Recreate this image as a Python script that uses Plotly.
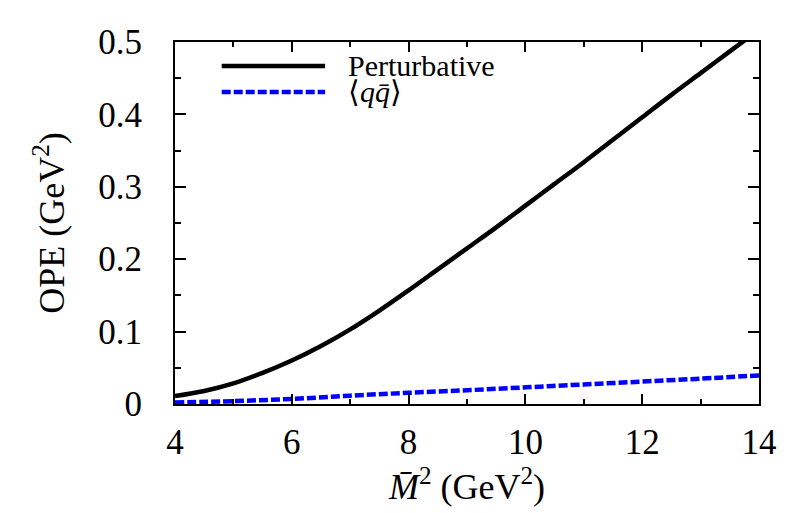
import plotly.graph_objects as go

# Data
m2_pert = [4, 4.5, 5, 5.5, 6, 6.5, 7, 7.5, 8, 8.5, 9, 9.5, 10, 10.5, 11, 11.5, 12, 12.5, 13, 13.5, 14]
perturbative = [0.011, 0.018, 0.0285, 0.043, 0.060, 0.080, 0.103, 0.129, 0.157, 0.186, 0.215,
                0.244, 0.274, 0.304, 0.334, 0.365, 0.396, 0.427, 0.457, 0.487, 0.517]
m2_qq = [4, 5, 6, 7, 8, 9, 10, 11, 12, 13, 14]
qqbar = [0.002, 0.004, 0.007, 0.0115, 0.0155, 0.019, 0.023, 0.027, 0.031, 0.035, 0.0395]

x_ticks = [4, 6, 8, 10, 12, 14]
y_ticks = [0, 0.1, 0.2, 0.3, 0.4, 0.5]
y_ticklabels = ["0", "0.1", "0.2", "0.3", "0.4", "0.5"]

series_names = ["Perturbative", "⟨<i>qq̄</i>⟩"]
series_colors = ["black", "#0000ff"]
series_dash = ["solid", "9px,3px"]

FONT = "Liberation Serif"

fig = go.Figure()
fig.add_trace(go.Scatter(
    x=m2_pert, y=perturbative, mode="lines", name=series_names[0],
    line=dict(color=series_colors[0], width=4.5, shape="spline", dash=series_dash[0]),
    showlegend=False,
))
fig.add_trace(go.Scatter(
    x=m2_qq, y=qqbar, mode="lines", name=series_names[1],
    line=dict(color=series_colors[1], width=4.5, dash=series_dash[1], shape="spline"),
    showlegend=False,
))

axis_common = dict(
    showline=True, linecolor="black", linewidth=2, mirror="allticks",
    ticks="inside", tickcolor="black", tickwidth=2,
    showgrid=False, zeroline=False, automargin=False,
    tickfont=dict(family=FONT, size=35, color="black"),
)

fig.update_xaxes(
    range=[4, 14], tickvals=x_ticks, ticklen=10,
    minor=dict(dtick=1, ticks="inside", ticklen=5, tickcolor="black", tickwidth=2),
    title=dict(text="<i>M̄</i><sup>2</sup> (GeV<sup>2</sup>)",
               font=dict(family=FONT, size=36, color="black"), standoff=8),
    ticklabelstandoff=6,
    **axis_common,
)
fig.update_yaxes(
    range=[0, 0.5], tickvals=y_ticks, ticktext=y_ticklabels, ticklen=11,
    minor=dict(dtick=0.05, ticks="inside", ticklen=6, tickcolor="black", tickwidth=2),
    title=dict(text="OPE (GeV<sup>2</sup>)",
               font=dict(family=FONT, size=36, color="black"), standoff=23),
    ticklabelstandoff=24,
    **axis_common,
)

# Manual legend (key lines + labels) in paper coordinates
legend_y = [0.934, 0.862]
for name, color, dash, ly in zip(series_names, series_colors, series_dash, legend_y):
    fig.add_shape(type="line", xref="paper", yref="paper",
                  x0=0.080, x1=0.257, y0=ly, y1=ly,
                  line=dict(color=color, width=4.5, dash=dash))
    fig.add_annotation(xref="paper", yref="paper", x=0.293, y=ly,
                       xanchor="left", yanchor="middle", showarrow=False,
                       text=name, font=dict(family=FONT, size=30, color="black"))

# The page body adds an 8px offset, so the figure is sized to sit at 175..759 x 42..404
fig.update_layout(
    width=781, height=505,
    margin=dict(l=167, r=30, t=34, b=109, autoexpand=False),
    paper_bgcolor="white", plot_bgcolor="white",
    showlegend=False,
)

fig.write_html("out.html")
